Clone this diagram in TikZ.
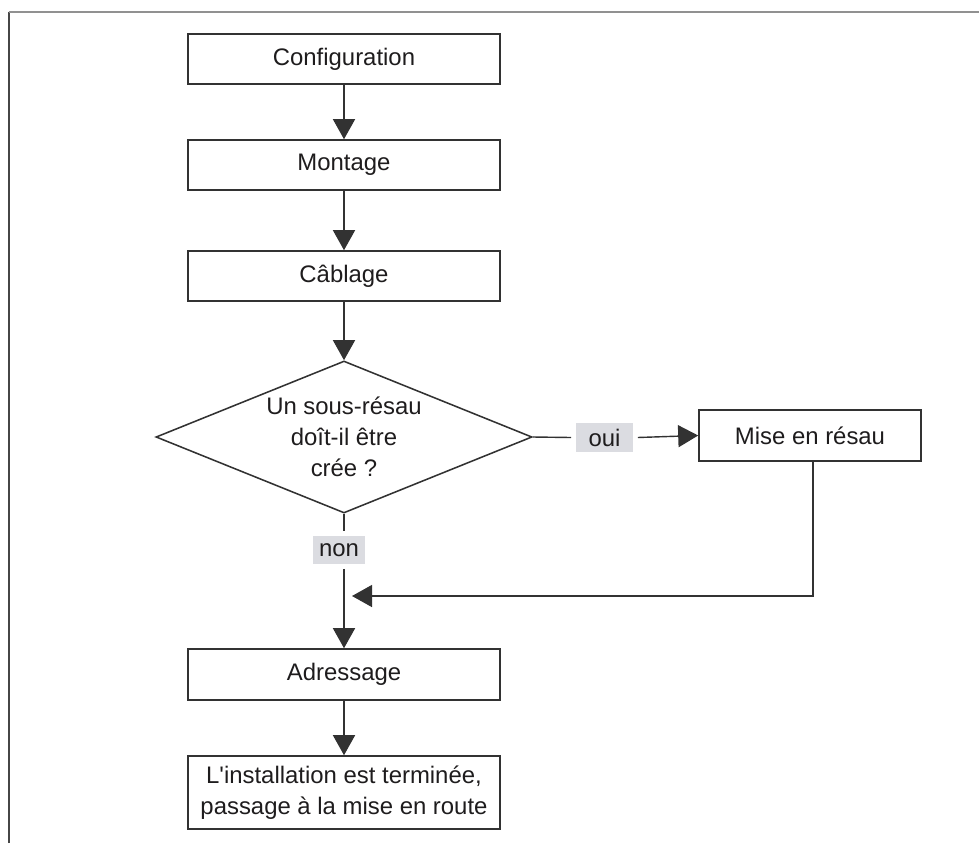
\documentclass[tikz,border=0pt]{standalone}
\usepackage{fontspec}
\setmainfont{Liberation Sans}
\usetikzlibrary{arrows.meta,shapes.geometric}
\definecolor{linec}{RGB}{50,50,50}
\definecolor{textc}{RGB}{30,28,29}
\definecolor{labelfill}{RGB}{219,220,225}
\definecolor{frametop}{RGB}{145,145,145}
\definecolor{frameleft}{RGB}{70,70,70}
\begin{document}
\begin{tikzpicture}[x=0.025cm,y=-0.025cm,
  font=\fontsize{17}{22}\selectfont, text=textc,
  stepbox/.style={draw=linec, line width=1.1pt, rectangle, inner sep=0pt,
    minimum width=7.8cm, minimum height=1.25cm, align=center},
  decbox/.style={draw=linec, line width=1.1pt, diamond, aspect=2.47, inner sep=0pt,
    minimum width=9.4cm, minimum height=3.8cm, align=center},
  lbl/.style={fill=labelfill, inner sep=0pt, outer sep=0.12cm, minimum height=0.72cm},
  conn/.style={draw=linec, line width=1pt},
  tri/.style={conn, -{Triangle[length=0.5cm,width=0.55cm]}}]
\useasboundingbox (0,0) rectangle (979,843);
% frame
\draw[frameleft, line width=1pt] (9,843) -- (9,12);
\draw[frametop, line width=1.6pt] (8.5,12) -- (979,12);
% nodes
\node[stepbox] (conf) at (344,59) {Configuration};
\node[stepbox] (mont) at (344,165) {Montage};
\node[stepbox] (cabl) at (344,276) {Câblage};
\node[decbox] (dec) at (344,437) {Un sous-résau\\doît-il être\\crée ?};
\node[stepbox, minimum width=5.55cm, minimum height=1.275cm] (mise) at (810,435.5) {Mise en résau};
\node[lbl, minimum width=1.425cm] (oui) at (604.5,437.5) {oui};
\node[lbl, minimum width=1.3cm, minimum height=0.7cm] (non) at (339,550) {non};
\node[stepbox, minimum height=1.275cm] (adr) at (344,674.5) {Adressage};
\node[stepbox, minimum height=1.825cm] (fin) at (344,792.5) {L\textquotesingle installation est terminée,\\passage à la mise en route};
\coordinate (join) at (352,596);
% connectors
\draw[tri] (conf.south) -- (mont.north);
\draw[tri] (mont.south) -- (cabl.north);
\draw[tri] (cabl.south) -- (dec.north);
\draw[conn] (dec.east) -- (oui.west);
\draw[tri] (oui.east) -- (mise.west);
\draw[conn] (dec.south) -- (dec.south |- non.north);
\draw[tri] (dec.south |- non.south) -- (adr.north);
\draw[tri] ([xshift=0.075cm]mise.south) |- (join);
\draw[tri] (adr.south) -- (fin.north);
\end{tikzpicture}
\end{document}
